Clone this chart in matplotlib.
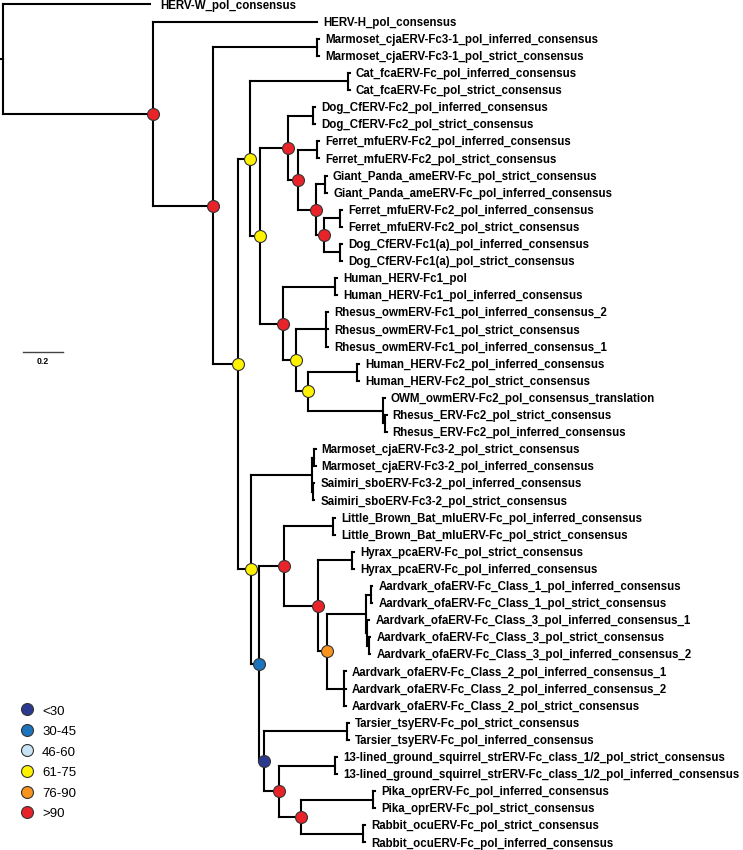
import matplotlib
matplotlib.use('Agg')
import matplotlib.pyplot as plt

# tips, top to bottom, with the internal node each hangs from and its branch length
leaf_names = [
    'HERV-W_pol_consensus',
    'HERV-H_pol_consensus',
    'Marmoset_cjaERV-Fc3-1_pol_inferred_consensus',
    'Marmoset_cjaERV-Fc3-1_pol_strict_consensus',
    'Cat_fcaERV-Fc_pol_inferred_consensus',
    'Cat_fcaERV-Fc_pol_strict_consensus',
    'Dog_CfERV-Fc2_pol_inferred_consensus',
    'Dog_CfERV-Fc2_pol_strict_consensus',
    'Ferret_mfuERV-Fc2_pol_inferred_consensus',
    'Ferret_mfuERV-Fc2_pol_strict_consensus',
    'Giant_Panda_ameERV-Fc_pol_strict_consensus',
    'Giant_Panda_ameERV-Fc_pol_inferred_consensus',
    'Ferret_mfuERV-Fc2_pol_inferred_consensus',
    'Ferret_mfuERV-Fc2_pol_strict_consensus',
    'Dog_CfERV-Fc1(a)_pol_inferred_consensus',
    'Dog_CfERV-Fc1(a)_pol_strict_consensus',
    'Human_HERV-Fc1_pol',
    'Human_HERV-Fc1_pol_inferred_consensus',
    'Rhesus_owmERV-Fc1_pol_inferred_consensus_2',
    'Rhesus_owmERV-Fc1_pol_strict_consensus',
    'Rhesus_owmERV-Fc1_pol_inferred_consensus_1',
    'Human_HERV-Fc2_pol_inferred_consensus',
    'Human_HERV-Fc2_pol_strict_consensus',
    'OWM_owmERV-Fc2_pol_consensus_translation',
    'Rhesus_ERV-Fc2_pol_strict_consensus',
    'Rhesus_ERV-Fc2_pol_inferred_consensus',
    'Marmoset_cjaERV-Fc3-2_pol_strict_consensus',
    'Marmoset_cjaERV-Fc3-2_pol_inferred_consensus',
    'Saimiri_sboERV-Fc3-2_pol_inferred_consensus',
    'Saimiri_sboERV-Fc3-2_pol_strict_consensus',
    'Little_Brown_Bat_mluERV-Fc_pol_inferred_consensus',
    'Little_Brown_Bat_mluERV-Fc_pol_strict_consensus',
    'Hyrax_pcaERV-Fc_pol_strict_consensus',
    'Hyrax_pcaERV-Fc_pol_inferred_consensus',
    'Aardvark_ofaERV-Fc_Class_1_pol_inferred_consensus',
    'Aardvark_ofaERV-Fc_Class_1_pol_strict_consensus',
    'Aardvark_ofaERV-Fc_Class_3_pol_inferred_consensus_1',
    'Aardvark_ofaERV-Fc_Class_3_pol_strict_consensus',
    'Aardvark_ofaERV-Fc_Class_3_pol_inferred_consensus_2',
    'Aardvark_ofaERV-Fc_Class_2_pol_inferred_consensus_1',
    'Aardvark_ofaERV-Fc_Class_2_pol_inferred_consensus_2',
    'Aardvark_ofaERV-Fc_Class_2_pol_strict_consensus',
    'Tarsier_tsyERV-Fc_pol_strict_consensus',
    'Tarsier_tsyERV-Fc_pol_inferred_consensus',
    '13-lined_ground_squirrel_strERV-Fc_class_1/2_pol_strict_consensus',
    '13-lined_ground_squirrel_strERV-Fc_class_1/2_pol_inferred_consensus',
    'Pika_oprERV-Fc_pol_inferred_consensus',
    'Pika_oprERV-Fc_pol_strict_consensus',
    'Rabbit_ocuERV-Fc_pol_strict_consensus',
    'Rabbit_ocuERV-Fc_pol_inferred_consensus',
]
leaf_parents = [
    'root', 'A', 'm31', 'm31', 'cat', 'cat', 'dog2', 'dog2', 'fer2', 'fer2',
    'panda', 'panda', 'fer1', 'fer1', 'dog1', 'dog1', 'hum1', 'hum1',
    'rh1', 'rh1', 'rh1', 'hum2', 'hum2', 'owm', 'rh2', 'rh2',
    'marm32', 'marm32', 'saim', 'saim', 'bat', 'bat', 'hyrax', 'hyrax',
    'cl1', 'cl1', 'cl3', 'cl3b', 'cl3b', 'cl2', 'cl2', 'cl2',
    'tarsier', 'tarsier', 'squirrel', 'squirrel', 'pika', 'pika', 'rabbit', 'rabbit',
]
leaf_lengths = [
    0.735, 0.82, 0.01, 0.01, 0.01, 0.01, 0.01, 0.01, 0.01, 0.01,
    0.008, 0.012, 0.01, 0.01, 0.01, 0.01, 0.01, 0.01,
    0.01, 0.01, 0.01, 0.01, 0.01, 0.0075, 0.0075, 0.0075,
    0.0075, 0.0075, 0.0075, 0.0075, 0.01, 0.01, 0.01, 0.01,
    0.0075, 0.0075, 0.0125, 0.0075, 0.0075, 0.01, 0.01, 0.01,
    0.01, 0.01, 0.01, 0.01, 0.01, 0.01, 0.01, 0.01,
]

# internal nodes (parents listed before children), bootstrap support where shown
node_names = ['root', 'A', 'B', 'm31', 'C', 'D', 'cat', 'F', 'G', 'dog2', 'H', 'fer2',
              'I', 'panda', 'J', 'fer1', 'dog1', 'K', 'hum1', 'L', 'rh1', 'M', 'hum2',
              'owm', 'rh2', 'E', 'fc32', 'marm32', 'saim', 'N', 'O', 'bat', 'P', 'hyrax',
              'Q', 'R', 'cl1', 'cl3', 'cl3b', 'cl2', 'T', 'tarsier', 'U', 'squirrel',
              'V', 'pika', 'rabbit']
node_parents = [None, 'root', 'A', 'B', 'B', 'C', 'D', 'D', 'F', 'G', 'G', 'H',
                'H', 'I', 'I', 'J', 'J', 'F', 'K', 'K', 'L', 'L', 'M',
                'M', 'owm', 'C', 'E', 'fc32', 'fc32', 'E', 'N', 'O', 'O', 'P',
                'P', 'Q', 'R', 'R', 'cl3', 'Q', 'N', 'T', 'T', 'U',
                'U', 'V', 'V']
node_lengths = [0.015, 0.75, 0.30, 0.52, 0.125, 0.06, 0.49, 0.05, 0.14, 0.125, 0.05, 0.095,
                0.09, 0.045, 0.04, 0.08, 0.08, 0.115, 0.26, 0.065, 0.15, 0.06, 0.245,
                0.375, 0.01, 0.065, 0.305, 0.01, 0.005, 0.04, 0.125, 0.245, 0.17, 0.17,
                0.045, 0.195, 0.025, 0.005, 0.01, 0.085, 0.025, 0.415, 0.075, 0.28,
                0.11, 0.36, 0.31]
node_support = [None, 95, 95, None, 70, 70, None, 70, 95, None, 95, None,
                95, None, 95, None, None, 95, None, 70, None, 70, None,
                None, None, 70, None, None, None, 40, 95, None, 95, None,
                85, None, None, None, None, None, 25, None, 95, None,
                95, None, None]

legend_labels = ['<30', '30-45', '46-60', '61-75', '76-90', '>90']
legend_colors = ['#2b3990', '#1c75bc', '#c9e4f6', '#fff200', '#f7941d', '#e8232a']
support_upper = [29, 45, 60, 75, 90, 100]
scale_length = 0.2


def supportColor(value):
    for upper, color in zip(support_upper, legend_colors):
        if value <= upper:
            return color
    return legend_colors[-1]


# x positions: cumulative branch length
x = {}
children = {n: [] for n in node_names}
for n, p, l in zip(node_names, node_parents, node_lengths):
    x[n] = l if p is None else x[p] + l
    if p is not None:
        children[p].append(n)
for i, (p, l) in enumerate(zip(leaf_parents, leaf_lengths)):
    x[i] = x[p] + l
    children[p].append(i)

# y positions: tips evenly spaced, inner nodes centred on their children
y = {}
def nodeY(n):
    if isinstance(n, int):
        y[n] = n
    else:
        ys = [nodeY(c) for c in children[n]]
        y[n] = (min(ys) + max(ys)) / 2
    return y[n]
nodeY('root')

fig = plt.figure(figsize=(7.43, 8.5), dpi=100)
ax = fig.add_axes([0, 0, 1, 1])
lw = 1.5

# root stub
ax.plot([0, x['root']], [y['root']] * 2, color='black', lw=lw)
for n, p in zip(node_names, node_parents):
    if p is not None:
        ax.plot([x[p], x[n]], [y[n]] * 2, color='black', lw=lw)
    ys = [y[c] for c in children[n]]
    ax.plot([x[n]] * 2, [min(ys), max(ys)], color='black', lw=lw)
for i, p in enumerate(leaf_parents):
    ax.plot([x[p], x[i]], [i, i], color='black', lw=lw)
    off = 0.05 if i == 0 else 0.03
    ax.text(x[i] + off, i + 0.24, leaf_names[i], fontsize=8.3, fontweight='bold',
            family='Liberation Sans', ha='left', va='baseline')

# support circles
for n, s in zip(node_names, node_support):
    if s is not None:
        ax.plot(x[n], y[n], 'o', markersize=8.6, markerfacecolor=supportColor(s),
                markeredgecolor='#333333', markeredgewidth=0.8, zorder=5)

# scale bar
ax.plot([0.115, 0.115 + scale_length], [20.3, 20.3], color='#444444', lw=1.0)
ax.text(0.115 + scale_length / 2, 20.88, '%g' % scale_length, fontsize=6.3, fontweight='bold',
        family='Liberation Sans', ha='center', va='center')

# legend
for k, (lab, col) in enumerate(zip(legend_labels, legend_colors)):
    ly = 41.22 + 1.2 * k
    ax.plot(0.135, ly, 'o', markersize=8.6, markerfacecolor=col,
            markeredgecolor='#333333', markeredgewidth=0.8)
    ax.text(0.21, ly + 0.3, lab, fontsize=9.5, family='Liberation Sans',
            ha='left', va='baseline')

ax.set_xlim(0, 3.715)
# tip 0 at ~4.5 px, tip 49 at ~843 px
ax.set_ylim(49.44, -0.263)
ax.axis('off')
fig.savefig('out.png', dpi=100)
